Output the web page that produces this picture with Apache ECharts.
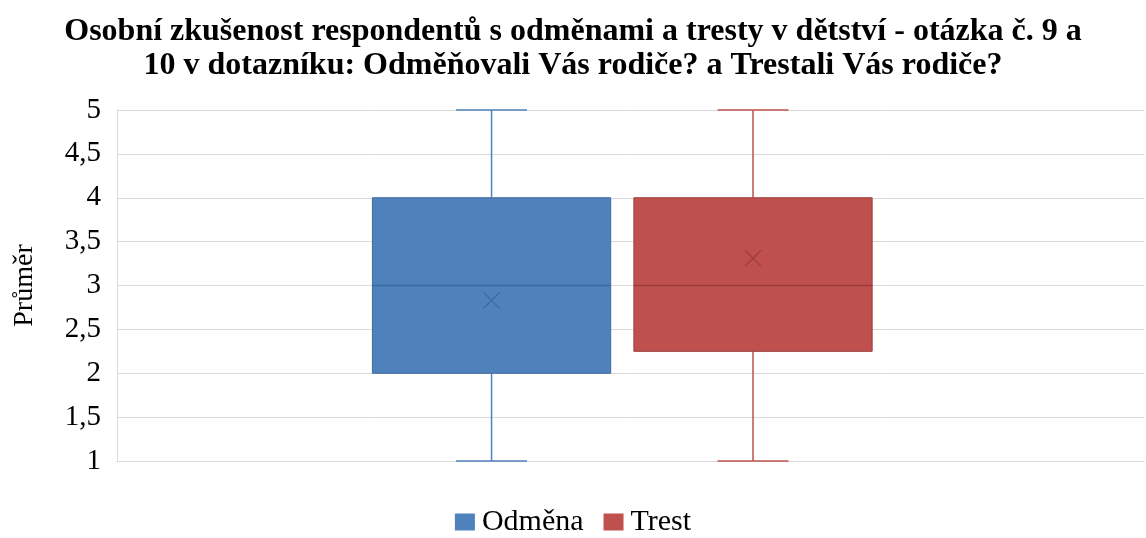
<!DOCTYPE html>
<html>
<head>
<meta charset="utf-8">
<script src="https://cdn.jsdelivr.net/npm/echarts@6/dist/echarts.min.js"></script>
<style>
html,body{margin:0;padding:0;background:#fff;}
#chart{width:1146px;height:538px;}
</style>
</head>
<body>
<div id="chart"></div>
<script>
// box plot stats per group (Likert 1-5)
const groups = ['Odměna', 'Trest'];
const minVals = [1, 1];
const q1Vals = [2, 2.25];
const medianVals = [3, 3];
const q3Vals = [4, 4];
const maxVals = [5, 5];
const meanVals = [2.83, 3.31];
const yTicks = [1, 1.5, 2, 2.5, 3, 3.5, 4, 4.5, 5];

const fills = ['#4f81bd', '#c0504d'];
const darks = ['#3d6a9f', '#9c3f3c'];
const offsets = [-0.1353, 0.1193]; // box centre, as part of band width
const boxFrac = 0.232;
const capFrac = 0.069;

const chart = echarts.init(document.getElementById('chart'));

function makeRender(idx) {
    return function (params, api) {
        const band = api.size([1, 0])[0];
        const cx = api.coord([0, 0])[0] + offsets[idx] * band;
        const half = band * boxFrac / 2;
        const capHalf = band * capFrac / 2;
        const yMin = api.coord([0, api.value(1)])[1];
        const yQ1 = api.coord([0, api.value(2)])[1];
        const yMed = api.coord([0, api.value(3)])[1];
        const yQ3 = api.coord([0, api.value(4)])[1];
        const yMax = api.coord([0, api.value(5)])[1];
        const yMean = api.coord([0, api.value(6)])[1];
        const ls = {stroke: fills[idx], lineWidth: 1.5};
        const m = 8;
        return {
            type: 'group',
            children: [
                {type: 'line', shape: {x1: cx, y1: yMax, x2: cx, y2: yQ3}, style: ls},
                {type: 'line', shape: {x1: cx, y1: yQ1, x2: cx, y2: yMin}, style: ls},
                {type: 'line', shape: {x1: cx - capHalf, y1: yMax, x2: cx + capHalf, y2: yMax}, style: ls},
                {type: 'line', shape: {x1: cx - capHalf, y1: yMin, x2: cx + capHalf, y2: yMin}, style: ls},
                {type: 'rect', shape: {x: cx - half, y: yQ3, width: half * 2, height: yQ1 - yQ3},
                    style: {fill: fills[idx], stroke: darks[idx], lineWidth: 1}},
                {type: 'line', shape: {x1: cx - half, y1: yMed, x2: cx + half, y2: yMed},
                    style: {stroke: darks[idx], lineWidth: 1.5}},
                {type: 'line', shape: {x1: cx - m, y1: yMean - m, x2: cx + m, y2: yMean + m},
                    style: {stroke: darks[idx], lineWidth: 1.2}},
                {type: 'line', shape: {x1: cx - m, y1: yMean + m, x2: cx + m, y2: yMean - m},
                    style: {stroke: darks[idx], lineWidth: 1.2}}
            ]
        };
    };
}

const seriesList = groups.map(function (name, i) {
    return {
        type: 'custom',
        name: name,
        renderItem: makeRender(i),
        itemStyle: {color: fills[i]},
        encode: {x: 0, y: [1, 2, 3, 4, 5, 6]},
        data: [[0, minVals[i], q1Vals[i], medianVals[i], q3Vals[i], maxVals[i], meanVals[i]]]
    };
});

const option = {
    animation: false,
    title: {
        text: 'Osobní zkušenost respondentů s odměnami a tresty v dětství - otázka č. 9 a\n10 v dotazníku: Odměňovali Vás rodiče? a Trestali Vás rodiče?',
        left: 'center',
        top: 10,
        textStyle: {
            fontFamily: 'Liberation Serif',
            fontWeight: 'bold',
            fontSize: 32,
            lineHeight: 34,
            color: '#000'
        }
    },
    legend: {
        bottom: -4,
        left: 'center',
        itemWidth: 20,
        itemHeight: 17,
        itemGap: 20,
        icon: 'rect',
        textStyle: {fontFamily: 'Liberation Serif', fontSize: 30, color: '#000', padding: [0, 0, 0, 2]},
        data: groups
    },
    grid: {left: 117, right: 2, top: 110, bottom: 77, outerBoundsMode: 'none'},
    xAxis: {
        type: 'category',
        data: [''],
        axisLine: {show: true, lineStyle: {color: '#d9d9d9'}},
        axisTick: {show: false},
        axisLabel: {show: false}
    },
    yAxis: {
        type: 'value',
        min: yTicks[0],
        max: yTicks[yTicks.length - 1],
        interval: 0.5,
        name: 'Průměr',
        nameLocation: 'middle',
        nameGap: 78,
        nameRotate: 90,
        nameTextStyle: {fontFamily: 'Liberation Serif', fontSize: 28, color: '#000'},
        axisLine: {show: true, lineStyle: {color: '#d9d9d9'}},
        axisTick: {show: false},
        splitLine: {lineStyle: {color: '#d9d9d9', width: 1}},
        axisLabel: {
            fontFamily: 'Liberation Serif',
            fontSize: 29,
            color: '#000',
            margin: 16,
            formatter: function (v) { return String(v).replace('.', ','); }
        }
    },
    series: seriesList
};

chart.setOption(option);
</script>
</body>
</html>
